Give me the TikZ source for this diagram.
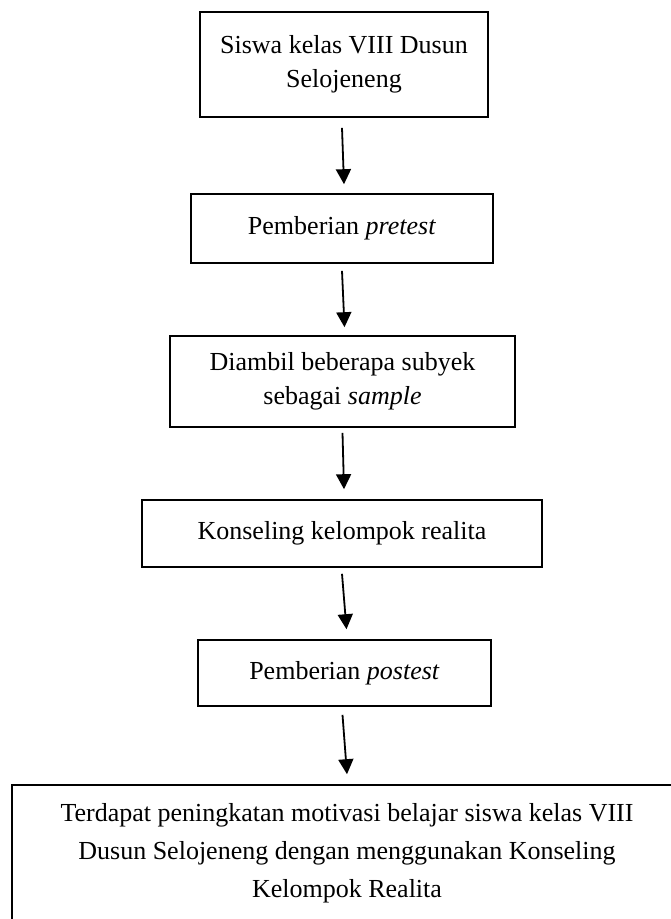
\documentclass[tikz,border=0pt]{standalone}
\usepackage{fontspec}
\setmainfont{Liberation Serif}
\usetikzlibrary{arrows.meta,calc}
\begin{document}
\begin{tikzpicture}[x=1pt,y=-1pt,
  box/.style={draw, line width=1.6pt, inner sep=0pt, align=center,
    font=\fontsize{26}{34}\selectfont},
  arr/.style={line width=1.8pt, -{Triangle[length=15pt,width=15pt]}}]
\useasboundingbox (0,0) rectangle (670,919);
\node[box, minimum width=288pt, minimum height=105pt] (b1) at (344,64.5)
  {Siswa kelas VIII Dusun\\Selojeneng};
\node[box, minimum width=302pt, minimum height=69pt] (b2) at (342,228.5)
  {Pemberian \textit{pretest}};
\node[box, minimum width=345pt, minimum height=91pt] (b3) at (342.5,381.5)
  {Diambil beberapa subyek\\sebagai \textit{sample}};
\node[box, minimum width=400pt, minimum height=67pt] (b4) at (342,533.5)
  {Konseling kelompok realita};
\node[box, minimum width=293pt, minimum height=66pt] (b5) at (344.5,673)
  {Pemberian \textit{postest}};
\node[box, minimum width=670pt, minimum height=136pt,
  font=\fontsize{26}{38}\selectfont] (b6) at (347,853)
  {Terdapat peningkatan motivasi belajar siswa kelas VIII\\
   Dusun Selojeneng dengan menggunakan Konseling\\
   Kelompok Realita};
\draw[arr] ($(b1.south)+(-2,10)$) -- ($(b2.north)+(2,-9)$);
\draw[arr] ($(b2.south)+(0,7)$) -- ($(b3.north)+(2,-8)$);
\draw[arr] ($(b3.south)+(0,5)$) -- ($(b4.north)+(2,-10)$);
\draw[arr] ($(b4.south)+(0,6)$) -- ($(b5.north)+(2,-10)$);
\draw[arr] ($(b5.south)+(-2,8)$) -- ($(b6.north)+(0,-10)$);
\end{tikzpicture}
\end{document}
